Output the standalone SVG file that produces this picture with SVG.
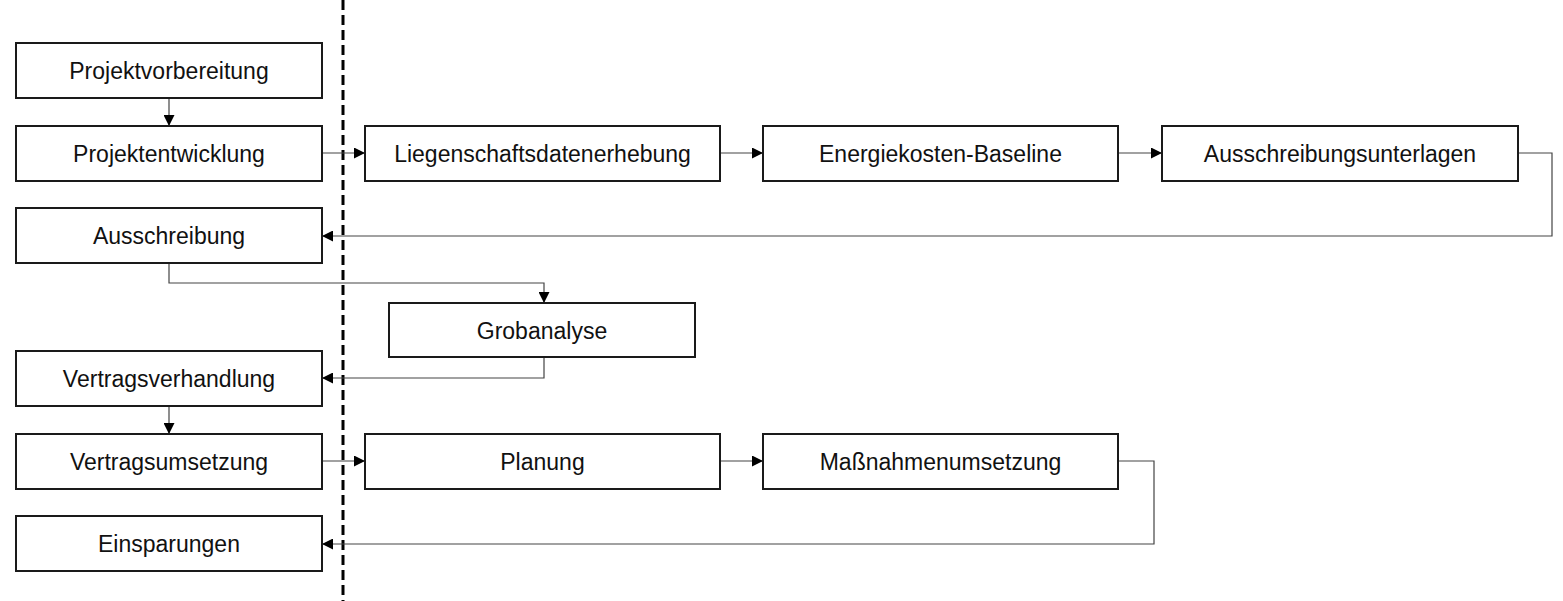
<svg xmlns="http://www.w3.org/2000/svg" width="1563" height="601" viewBox="0 0 1563 601">
<style>
.box{fill:#fff;stroke:#1a1a1a;stroke-width:2}
.lbl{font-family:"Liberation Sans",Arial,sans-serif;font-size:23px;fill:#111;text-anchor:middle;dominant-baseline:central}
.con{fill:none;stroke:#444;stroke-width:1.2}
</style>
<defs>
<marker id="arr" viewBox="0 0 10 10" refX="10" refY="5" markerWidth="11" markerHeight="11" markerUnits="userSpaceOnUse" orient="auto">
<path d="M0,0 L10,5 L0,10 Z" fill="#000"/>
</marker>
</defs>
<rect width="1563" height="601" fill="#fff"/>
<line x1="343" y1="0" x2="343" y2="601" stroke="#000" stroke-width="3" stroke-dasharray="10,5"/>
<g id="connectors">
<path class="con" d="M169,98 V126" marker-end="url(#arr)"/>
<path class="con" d="M322,153 H365" marker-end="url(#arr)"/>
<path class="con" d="M720,153 H763" marker-end="url(#arr)"/>
<path class="con" d="M1118,153 H1162" marker-end="url(#arr)"/>
<path class="con" d="M1518,153 H1552 V236 H322" marker-end="url(#arr)"/>
<path class="con" d="M169,263 V283 H544 V303" marker-end="url(#arr)"/>
<path class="con" d="M544,357 V378 H322" marker-end="url(#arr)"/>
<path class="con" d="M169,406 V434" marker-end="url(#arr)"/>
<path class="con" d="M322,461 H365" marker-end="url(#arr)"/>
<path class="con" d="M720,461 H763" marker-end="url(#arr)"/>
<path class="con" d="M1118,461 H1154 V544 H322" marker-end="url(#arr)"/>
</g>
<g id="projektvorbereitung"><rect class="box" x="16" y="43" width="306" height="55"/><text class="lbl" x="169" y="71">Projektvorbereitung</text></g>
<g id="projektentwicklung"><rect class="box" x="16" y="126" width="306" height="55"/><text class="lbl" x="169" y="154">Projektentwicklung</text></g>
<g id="ausschreibung"><rect class="box" x="16" y="208" width="306" height="55"/><text class="lbl" x="169" y="236">Ausschreibung</text></g>
<g id="vertragsverhandlung"><rect class="box" x="16" y="351" width="306" height="55"/><text class="lbl" x="169" y="379">Vertragsverhandlung</text></g>
<g id="vertragsumsetzung"><rect class="box" x="16" y="434" width="306" height="55"/><text class="lbl" x="169" y="462">Vertragsumsetzung</text></g>
<g id="einsparungen"><rect class="box" x="16" y="516" width="306" height="55"/><text class="lbl" x="169" y="544">Einsparungen</text></g>
<g id="liegenschaftsdatenerhebung"><rect class="box" x="365" y="126" width="355" height="55"/><text class="lbl" x="542.5" y="154">Liegenschaftsdatenerhebung</text></g>
<g id="energiekosten-baseline"><rect class="box" x="763" y="126" width="355" height="55"/><text class="lbl" x="940.5" y="154">Energiekosten-Baseline</text></g>
<g id="ausschreibungsunterlagen"><rect class="box" x="1162" y="126" width="356" height="55"/><text class="lbl" x="1340" y="154">Ausschreibungsunterlagen</text></g>
<g id="grobanalyse"><rect class="box" x="389" y="303" width="306" height="54"/><text class="lbl" x="542" y="331">Grobanalyse</text></g>
<g id="planung"><rect class="box" x="365" y="434" width="355" height="55"/><text class="lbl" x="542.5" y="462">Planung</text></g>
<g id="massnahmenumsetzung"><rect class="box" x="763" y="434" width="355" height="55"/><text class="lbl" x="940.5" y="462">Maßnahmenumsetzung</text></g>
</svg>
